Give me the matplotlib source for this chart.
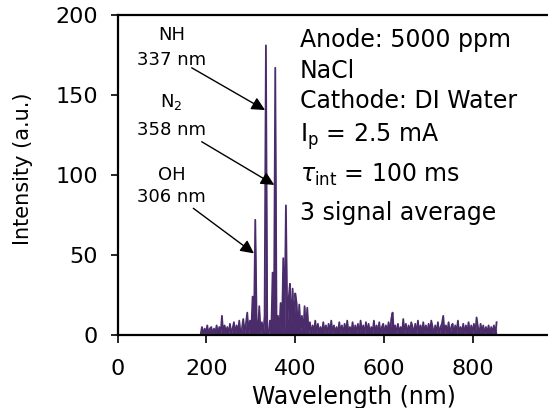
import numpy as np
import matplotlib
matplotlib.use("Agg")
import matplotlib.pyplot as plt

# Emission spectrum (3 nm steps from 187 to 853 nm)
wavelength = np.arange(187, 854, 3)
intensity = [
    # 187 - 232
    0, 5, 0, 4, 1, 6, 0, 4, 5, 0, 4, 1, 6, 0, 5, 0,
    # 235 - 280
    12, 0, 6, 1, 5, 0, 7, 1, 4, 8, 0, 6, 1, 9, 0, 4,
    # 283 - 430
    10, 1, 7, 14, 0, 9, 2, 24, 1, 72, 10, 0, 18, 0, 8, 0, 12, 181,
    1, 0, 9, 0, 39, 2, 167, 0, 12, 1, 20, 0, 48, 3, 81, 6, 22, 32,
    2, 29, 4, 26, 20, 1, 19, 3, 12, 0, 18, 2, 17, 1,
    # 433 - 490
    8, 0, 6, 1, 9, 0, 7, 1, 5, 0, 8, 1, 6, 0, 7, 1, 9, 0, 6, 1,
    # 493 - 550
    5, 0, 8, 1, 6, 0, 7, 1, 9, 0, 5, 1, 8, 0, 6, 1, 7, 0, 9, 1,
    # 553 - 610
    6, 0, 8, 1, 7, 0, 5, 1, 9, 0, 6, 1, 8, 0, 5, 7, 0, 6, 1, 8,
    # 613 - 670
    0, 10, 14, 1, 6, 0, 7, 1, 5, 0, 10, 1, 7, 0, 6, 1, 8, 5, 0, 7,
    # 673 - 730
    0, 9, 1, 6, 0, 8, 1, 6, 0, 7, 1, 9, 5, 0, 6, 1, 8, 0, 5, 7,
    # 733 - 790
    12, 0, 6, 1, 8, 0, 5, 7, 0, 6, 1, 9, 0, 5, 1, 7, 0, 6, 1, 8,
    # 793 - 853
    0, 6, 1, 7, 0, 11, 5, 0, 7, 1, 6, 0, 5, 1, 6, 0, 5, 1, 6, 0, 8,
]

peak_labels = [("NH", "337 nm"), ("N$_2$", "358 nm"), ("OH", "306 nm")]
label_y = [(184.4, 168.8), (142.7, 125.0), (96.9, 83.3)]
arrow_tail = [(167, 167), (189.5, 120.8), (170.6, 79.2)]
arrow_tip = [(332, 140.6), (352.8, 93.8), (307, 51)]

conditions = ["Anode: 5000 ppm", "NaCl", "Cathode: DI Water",
              "I$_\\mathrm{p}$ = 2.5 mA", "$\\tau_\\mathrm{int}$ = 100 ms",
              "3 signal average"]
cond_baseline_px = [46.7, 78.3, 108.3, 141.7, 181.7, 220.0]

W, H = 548, 408
fig = plt.figure(figsize=(W / 100, H / 100), dpi=100)
ax = fig.add_axes([117.5 / W, (H - 335) / H, 444.4 / W, 320 / H])

ax.fill_between(wavelength, intensity, color="#4a2c6a", lw=0)
ax.plot(wavelength, intensity, color="#4a2c6a", lw=1.3)

ax.set_xlim(0, 1000)
ax.set_ylim(0, 200)
ax.set_xticks([0, 200, 400, 600, 800])
ax.set_yticks([0, 50, 100, 150, 200])
ax.tick_params(direction="out", length=5, width=1.2, labelsize=16, pad=9)
ax.tick_params(axis="x", length=6, pad=11)
ax.spines["right"].set_visible(False)
for s in ["left", "bottom", "top"]:
    ax.spines[s].set_linewidth(1.6)

for (l1, l2), (y1, y2) in zip(peak_labels, label_y):
    ax.text(121.5, y1, l1, ha="center", va="baseline", fontsize=13)
    ax.text(121.5, y2, l2, ha="center", va="baseline", fontsize=13)

for tail, tip in zip(arrow_tail, arrow_tip):
    ax.annotate("", xy=tip, xytext=tail,
                arrowprops=dict(arrowstyle="-|>", color="black", lw=1,
                                mutation_scale=20, shrinkA=0, shrinkB=0))

for txt, by in zip(conditions, cond_baseline_px):
    fig.text(300 / W, 1 - by / H, txt, ha="left", va="baseline", fontsize=17)

fig.text(23 / W, 1 - 169 / H, "Intensity (a.u.)", rotation=90,
         ha="center", va="center", fontsize=15)
fig.text(354 / W, 1 - 404 / H, "Wavelength (nm)", ha="center",
         va="baseline", fontsize=17)

fig.savefig("out.png", dpi=100)
